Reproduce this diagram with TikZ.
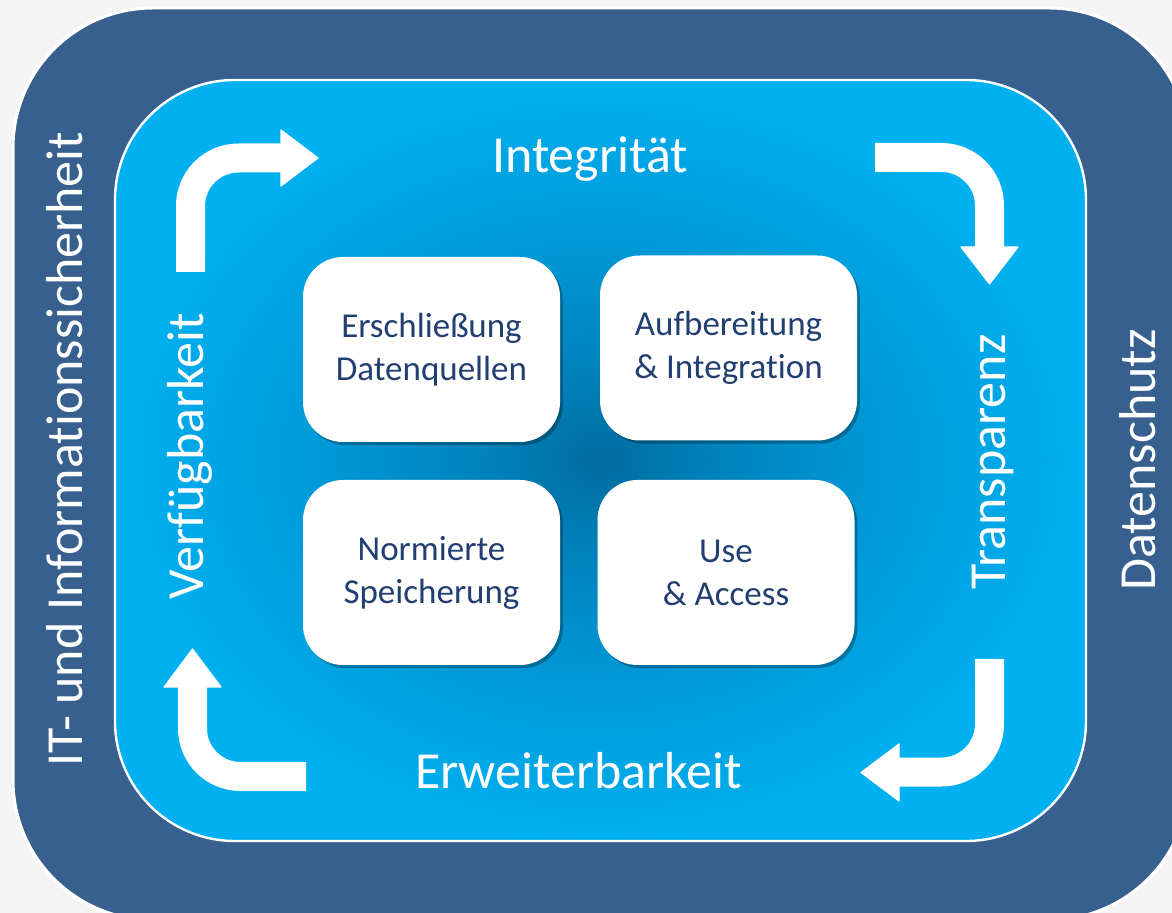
\documentclass[tikz,border=0pt]{standalone}
\usepackage{fontspec}
\setmainfont{Carlito}[Ligatures={NoCommon}]
\usetikzlibrary{shadows}
\definecolor{bgc}{HTML}{F5F5F5}
\definecolor{outerblue}{HTML}{37608F}
\definecolor{navytext}{HTML}{233F72}
\definecolor{glowA}{HTML}{006C9E}
\definecolor{glowB}{HTML}{0082BC}
\definecolor{glowC}{HTML}{0098D6}
\definecolor{glowD}{HTML}{00B0F0}
\pgfdeclareradialshading{innerglow}{\pgfpoint{0bp}{0bp}}{color(0bp)=(glowA); color(6bp)=(glowB); color(14bp)=(glowC); color(25bp)=(glowD); color(50bp)=(glowD)}
\tikzset{
  bendarrow/.style={draw=white, line width=14.5pt, rounded corners=24pt},
  arrowtip/.style={fill=white, draw=white, line width=0.6pt, line join=round},
  cyc/.style={text=white, font=\fontsize{26}{31}\selectfont, inner sep=0pt},
  card/.style={fill=white, rounded corners=20pt, text=navytext, align=center,
    font=\fontsize{17.5}{21.5}\selectfont, minimum width=128.5pt, minimum height=92.5pt,
    drop shadow={shadow xshift=1.4pt, shadow yshift=-1.6pt, fill=black, opacity=0.28}}
}
\begin{document}
\begin{tikzpicture}[x=0.5pt,y=-0.5pt]
\useasboundingbox (0,0) rectangle (1172,913);
\fill[bgc] (0,0) rectangle (1172,913);
% outer frame
\draw[white, line width=1.5pt, fill=outerblue, rounded corners=70pt] (13,8) rectangle (1189,920);
% inner frame
\shade[shading=innerglow, rounded corners=60pt] (115,80) rectangle (1086,841);
\draw[white, line width=1.2pt, rounded corners=60pt] (115,80) rectangle (1086,841);

% cycle arrows
\coordinate (tlS) at (190.5,272); \coordinate (tlC) at (190.5,158); \coordinate (tlE) at (283,158);
\draw[bendarrow] (tlS) -- (tlC) -- (tlE);
\filldraw[arrowtip] (281,130) -- (318,158) -- (281,186) -- cycle;

\coordinate (trS) at (875,157.5); \coordinate (trC) at (989.5,157.5); \coordinate (trE) at (989.5,249);
\draw[bendarrow] (trS) -- (trC) -- (trE);
\filldraw[arrowtip] (961,247) -- (1018,247) -- (989.5,284) -- cycle;

\coordinate (brS) at (989.5,659); \coordinate (brC) at (989.5,772); \coordinate (brE) at (897,772);
\draw[bendarrow] (brS) -- (brC) -- (brE);
\filldraw[arrowtip] (899,744) -- (899,801) -- (861,772.5) -- cycle;

\coordinate (blS) at (306,776.5); \coordinate (blC) at (192.5,776.5); \coordinate (blE) at (192.5,685);
\draw[bendarrow] (blS) -- (blC) -- (blE);
\filldraw[arrowtip] (164,687) -- (221,687) -- (192.5,649) -- cycle;

% cycle labels
\node[cyc, anchor=base] (integ) at (590,173) {Integrität};
\node[cyc, anchor=base] (erw) at (578.5,788) {Erweiterbarkeit};
\node[cyc, rotate=90, anchor=base] (verf) at (203,456.5) {Verfügbarkeit};
\node[cyc, rotate=90, anchor=base] (transp) at (1005,462) {Transparenz};
% outer labels
\node[cyc, rotate=90, anchor=base] (itsec) at (82,449) {IT- und Informationssicherheit};
\node[cyc, rotate=90, anchor=base] (dsch) at (1155,460) {Datenschutz};

% cards
\node[card] (b1) at (431.5,349.5) {Erschließung\\Datenquellen};
\node[card] (b2) at (728.5,348) {Aufbereitung\\\& Integration};
\node[card] (b3) at (431.5,572.5) {Normierte\\Speicherung};
\node[card] (b4) at (726,572.5) {Use\\\& Access};
\end{tikzpicture}
\end{document}
